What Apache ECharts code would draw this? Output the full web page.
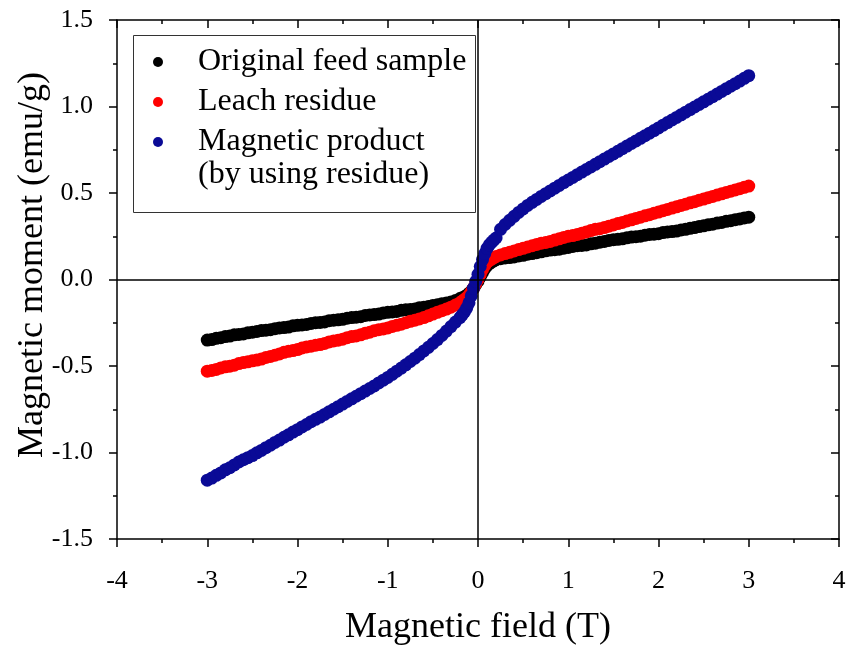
<!DOCTYPE html>
<html>
<head>
<meta charset="utf-8">
<script src="https://cdn.jsdelivr.net/npm/echarts@6/dist/echarts.min.js"></script>
<style>
  html, body { margin: 0; padding: 0; background: #fff; }
  #chart { width: 854px; height: 651px; }
</style>
</head>
<body>
<div id="chart"></div>
<script>
// applied field (T)
const field = [
  -3.00, -2.95, -2.90, -2.85, -2.80, -2.75, -2.70, -2.65, -2.60, -2.55, -2.50, -2.45, -2.40, -2.35,
  -2.30, -2.25, -2.20, -2.15, -2.10, -2.05, -2.00, -1.95, -1.90, -1.85, -1.80, -1.75, -1.70, -1.65,
  -1.60, -1.55, -1.50, -1.45, -1.40, -1.35, -1.30, -1.25, -1.20, -1.15, -1.10, -1.05, -1.00, -0.95,
  -0.90, -0.85, -0.80, -0.75, -0.70, -0.65, -0.60, -0.55, -0.50, -0.45, -0.40, -0.35, -0.30, -0.25,
  -0.200, -0.175, -0.150, -0.125, -0.100, -0.075, -0.050, -0.025, 0, 0.025, 0.050, 0.075, 0.100,
  0.125, 0.150, 0.175, 0.200,
  0.25, 0.30, 0.35, 0.40, 0.45, 0.50, 0.55, 0.60, 0.65, 0.70, 0.75, 0.80, 0.85, 0.90,
  0.95, 1.00, 1.05, 1.10, 1.15, 1.20, 1.25, 1.30, 1.35, 1.40, 1.45, 1.50, 1.55, 1.60,
  1.65, 1.70, 1.75, 1.80, 1.85, 1.90, 1.95, 2.00, 2.05, 2.10, 2.15, 2.20, 2.25, 2.30,
  2.35, 2.40, 2.45, 2.50, 2.55, 2.60, 2.65, 2.70, 2.75, 2.80, 2.85, 2.90, 2.95, 3.00
]
// magnetic moment (emu/g)
const feedSample = [
  -0.350, -0.347, -0.340, -0.336, -0.330, -0.327, -0.320, -0.318, -0.315, -0.308, -0.305, -0.300, -0.295, -0.293,
  -0.290, -0.284, -0.280, -0.278, -0.275, -0.268, -0.265, -0.263, -0.260, -0.254, -0.250, -0.248, -0.245, -0.238,
  -0.235, -0.233, -0.230, -0.224, -0.220, -0.218, -0.215, -0.208, -0.205, -0.203, -0.200, -0.193, -0.190, -0.188,
  -0.185, -0.178, -0.175, -0.173, -0.170, -0.163, -0.160, -0.156, -0.150, -0.146, -0.140, -0.136, -0.130, -0.122,
  -0.110, -0.105, -0.100, -0.092, -0.080, -0.068, -0.050, -0.030, -0.010, 0.015, 0.040, 0.062, 0.080,
  0.092, 0.100, 0.108, 0.115,
  0.120, 0.125, 0.127, 0.130, 0.136, 0.140, 0.146, 0.150, 0.155, 0.160, 0.166, 0.170, 0.172, 0.175,
  0.181, 0.185, 0.191, 0.195, 0.197, 0.200, 0.206, 0.210, 0.216, 0.220, 0.226, 0.230, 0.232, 0.235,
  0.241, 0.245, 0.247, 0.250, 0.256, 0.260, 0.262, 0.265, 0.271, 0.275, 0.277, 0.280, 0.286, 0.290,
  0.296, 0.300, 0.306, 0.310, 0.316, 0.320, 0.326, 0.330, 0.336, 0.340, 0.346, 0.350, 0.356, 0.360
]
const leachResidue = [
  -0.530, -0.526, -0.520, -0.511, -0.505, -0.501, -0.495, -0.486, -0.480, -0.476, -0.470, -0.466, -0.460, -0.451,
  -0.445, -0.438, -0.430, -0.421, -0.415, -0.411, -0.405, -0.396, -0.390, -0.386, -0.380, -0.376, -0.370, -0.361,
  -0.355, -0.351, -0.345, -0.336, -0.330, -0.326, -0.320, -0.311, -0.305, -0.296, -0.290, -0.286, -0.280, -0.271,
  -0.265, -0.258, -0.250, -0.242, -0.235, -0.228, -0.220, -0.210, -0.200, -0.190, -0.180, -0.171, -0.160, -0.148,
  -0.135, -0.125, -0.115, -0.105, -0.090, -0.072, -0.050, -0.025, 0.000, 0.030, 0.058, 0.082, 0.100,
  0.110, 0.118, 0.126, 0.133,
  0.142, 0.150, 0.157, 0.165, 0.173, 0.180, 0.188, 0.195, 0.203, 0.210, 0.214, 0.220, 0.228, 0.235,
  0.243, 0.250, 0.254, 0.260, 0.268, 0.275, 0.283, 0.290, 0.294, 0.300, 0.308, 0.315, 0.323, 0.330,
  0.338, 0.345, 0.353, 0.360, 0.368, 0.375, 0.383, 0.390, 0.398, 0.405, 0.413, 0.420, 0.428, 0.435,
  0.443, 0.450, 0.458, 0.465, 0.473, 0.480, 0.488, 0.495, 0.503, 0.510, 0.518, 0.525, 0.533, 0.540
]
const magProduct = [
  -1.160, -1.148, -1.132, -1.118, -1.100, -1.088, -1.072, -1.055, -1.042, -1.030, -1.018, -1.002, -0.988, -0.972,
  -0.958, -0.942, -0.928, -0.912, -0.898, -0.882, -0.868, -0.852, -0.838, -0.822, -0.808, -0.795, -0.780, -0.765,
  -0.750, -0.735, -0.720, -0.705, -0.690, -0.675, -0.660, -0.645, -0.630, -0.615, -0.598, -0.582, -0.566, -0.548,
  -0.530, -0.512, -0.493, -0.474, -0.455, -0.434, -0.413, -0.392, -0.370, -0.347, -0.323, -0.298, -0.272, -0.246,
  -0.220, -0.205, -0.188, -0.165, -0.135, -0.095, -0.050, -0.010, 0.030, 0.075, 0.115, 0.150, 0.180,
  0.200, 0.215, 0.228, 0.240,
  0.290, 0.318, 0.342, 0.365, 0.388, 0.408, 0.428, 0.446, 0.463, 0.480, 0.496, 0.512, 0.528, 0.544,
  0.560, 0.575, 0.590, 0.606, 0.621, 0.636, 0.651, 0.666, 0.681, 0.696, 0.711, 0.726, 0.741, 0.756,
  0.771, 0.786, 0.801, 0.816, 0.831, 0.846, 0.861, 0.876, 0.892, 0.907, 0.922, 0.937, 0.952, 0.967,
  0.982, 0.997, 1.012, 1.027, 1.042, 1.057, 1.072, 1.087, 1.102, 1.117, 1.132, 1.147, 1.163, 1.178
]
const seriesNames = ['Original feed sample', 'Leach residue', 'Magnetic product']
const seriesColors = ['#000000', '#ff0000', '#0a0a96']

const font = 'Liberation Serif, Times New Roman, serif'
const pairs = ys => field.map((x, i) => [x, ys[i]])

const chart = echarts.init(document.getElementById('chart'))

const frameAxis = {
  axisLine: { show: true, onZero: false, lineStyle: { color: '#000', width: 1.5 } },
  splitLine: { show: false },
  minorTick: { show: true, splitNumber: 2, length: 4, lineStyle: { color: '#000', width: 1.5 } }
}

chart.setOption({
  animation: false,
  grid: { left: 117, right: 15, top: 20, bottom: 102 },
  xAxis: [{
    ...frameAxis,
    type: 'value', min: -4, max: 4, interval: 1, position: 'bottom',
    axisTick: { inside: false, length: 8, lineStyle: { color: '#000', width: 1.5 } },
    axisLabel: { margin: 29, color: '#000', fontSize: 26, fontFamily: font },
    name: 'Magnetic field (T)', nameLocation: 'middle', nameGap: 71,
    nameTextStyle: { color: '#000', fontSize: 36, fontFamily: font }
  }, {
    ...frameAxis,
    type: 'value', min: -4, max: 4, interval: 1, position: 'top',
    axisTick: { inside: true, length: 8, lineStyle: { color: '#000', width: 1.5 } },
    axisLabel: { show: false }
  }],
  yAxis: [{
    ...frameAxis,
    type: 'value', min: -1.5, max: 1.5, interval: 0.5, position: 'left',
    axisTick: { inside: false, length: 8, lineStyle: { color: '#000', width: 1.5 } },
    axisLabel: { margin: 24, color: '#000', fontSize: 26, fontFamily: font, formatter: v => v.toFixed(1) }
  }, {
    ...frameAxis,
    type: 'value', min: -1.5, max: 1.5, interval: 0.5, position: 'right',
    axisTick: { inside: true, length: 8, lineStyle: { color: '#000', width: 1.5 } },
    axisLabel: { show: false }
  }],
  legend: {
    orient: 'vertical', left: 148, top: 37, itemGap: 0,
    icon: 'circle', itemWidth: 10, itemHeight: 10,
    textStyle: { color: '#000', fontSize: 32, fontFamily: font, lineHeight: 40, padding: [0, 0, 0, 30] },
    data: seriesNames
  },
  graphic: [
    { type: 'rect', left: 131, top: 33, shape: { width: 342, height: 177 },
      style: { fill: 'none', stroke: '#333', lineWidth: 1 }, z: 100 },
    { type: 'text', left: 198, top: 159,
      style: { text: '(by using residue)', fill: '#000', font: '32px ' + font }, z: 100 },
    { type: 'text', x: 33, y: 265, rotation: Math.PI / 2,
      style: { text: 'Magnetic moment (emu/g)', fill: '#000', font: '36px ' + font,
        textAlign: 'center', textVerticalAlign: 'middle' } }
  ],
  series: seriesNames.map((name, k) => ({
    name,
    type: 'scatter',
    symbolSize: 13,
    itemStyle: { color: seriesColors[k], opacity: 1 },
    data: pairs([feedSample, leachResidue, magProduct][k]),
    markLine: k === 0 ? {
      silent: true, symbol: 'none', label: { show: false },
      lineStyle: { color: '#000', width: 1.5, type: 'solid' },
      data: [{ xAxis: 0 }, { yAxis: 0 }]
    } : undefined
  }))
})
</script>
</body>
</html>
